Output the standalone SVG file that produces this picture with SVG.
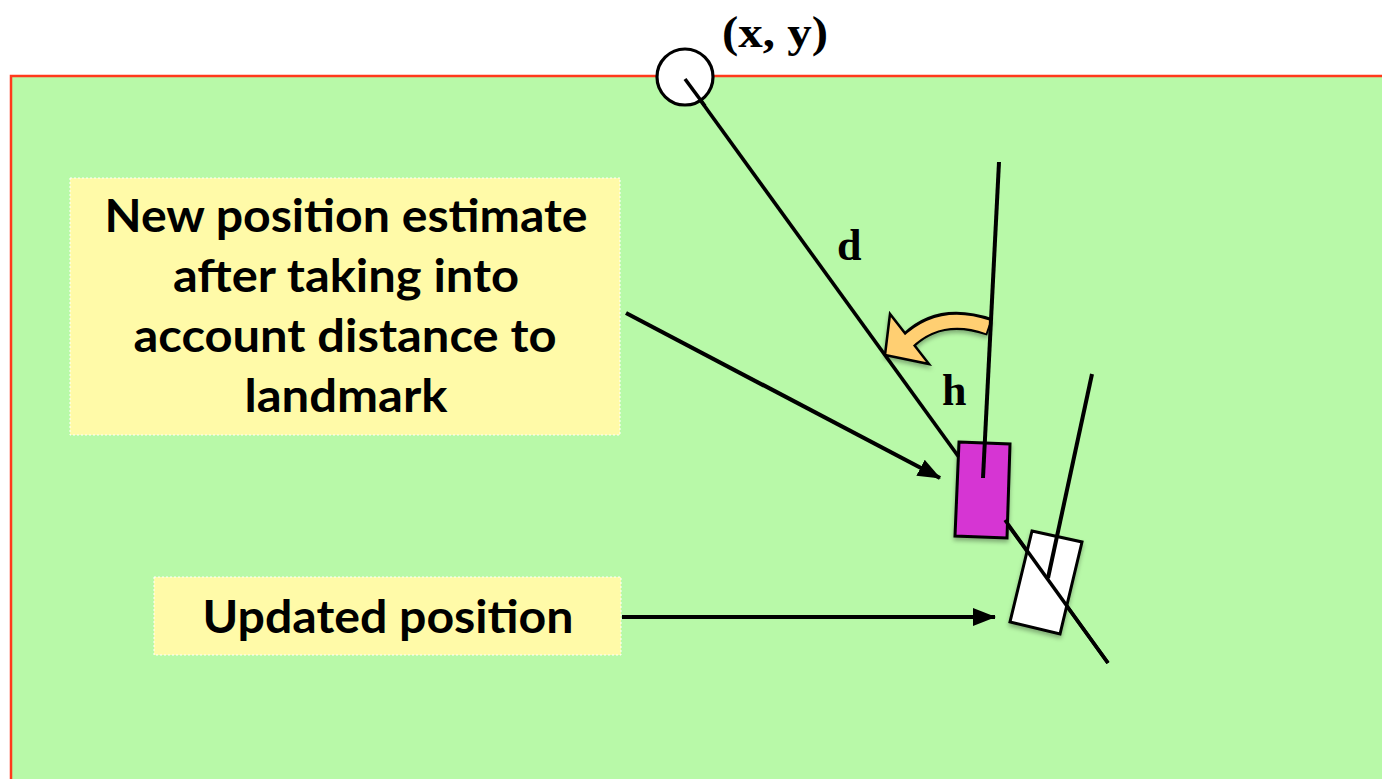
<svg xmlns="http://www.w3.org/2000/svg" width="1382" height="779" viewBox="0 0 1382 779">
<style>
.lbl{font-family:Lato,"Open Sans",sans-serif;font-weight:bold;font-size:46px;fill:#000;text-anchor:middle}
.math{font-family:"Liberation Serif",serif;font-weight:bold;font-size:44px;fill:#000}
.ln{stroke:#000;fill:none;stroke-linecap:butt}
.box{fill:#fffaa8;stroke:#fff;stroke-width:1;stroke-dasharray:2 2}
.car{stroke:#000;stroke-width:3}
</style>
<defs>
<marker id="ah" viewBox="0 0 24 20" refX="22" refY="10" markerWidth="24" markerHeight="20" markerUnits="userSpaceOnUse" orient="auto">
<path d="M0,1 L23,10 L0,19 z" fill="#000"/>
</marker>
<filter id="sh" x="-20%" y="-20%" width="140%" height="140%">
<feDropShadow dx="0" dy="3" stdDeviation="2" flood-color="#000" flood-opacity="0.3"/>
</filter>
</defs>
<rect width="1382" height="779" fill="#fff"/>
<g id="field">
<rect x="11" y="76" width="1380" height="720" fill="#b8f9a8" stroke="#ff3a1c" stroke-width="2.5"/>
</g>
<g id="connectors">
<line class="ln" x1="685" y1="79" x2="1108" y2="663" stroke-width="3.6"/>
<line class="ln" x1="626" y1="313" x2="940" y2="478" stroke-width="4.2" marker-end="url(#ah)"/>
<line class="ln" x1="622" y1="617" x2="995" y2="617" stroke-width="4.2" marker-end="url(#ah)"/>
</g>
<g id="landmark">
<circle cx="685" cy="77" r="28" fill="#fff" stroke="#000" stroke-width="3.2"/>
<line class="ln" x1="685" y1="79" x2="705" y2="106" stroke-width="3.6"/>
<text class="math" x="722" y="47" textLength="106" lengthAdjust="spacingAndGlyphs">(x, y)</text>
</g>
<g id="label-d"><text class="math" x="837" y="260">d</text></g>
<g id="label-h"><text class="math" x="942" y="405">h</text></g>
<g id="heading-arrow" filter="url(#sh)">
<path d="M990,327 Q940,310 909,340" fill="none" stroke="#000" stroke-width="18"/>
<path d="M885,355 L890,314 L929,364 Z" fill="#ffcf72" stroke="#000" stroke-width="2.5" stroke-linejoin="miter"/>
<path d="M988,327 Q940,310 906,343" fill="none" stroke="#ffcf72" stroke-width="13"/>
</g>
<g id="estimate-car">
<polygon class="car" points="959,442 1010,444 1007,538 955,536" fill="#d634d3" filter="url(#sh)"/>
<line class="ln" x1="999" y1="162" x2="983" y2="478" stroke-width="4"/>
</g>
<g id="updated-car">
<polygon class="car" points="1032,531 1082,542 1060,634 1010,622" fill="#fff" filter="url(#sh)"/>
<line class="ln" x1="1005" y1="520" x2="1108" y2="663" stroke-width="3.6"/>
<line class="ln" x1="1092" y1="374" x2="1048" y2="578" stroke-width="4"/>
</g>
<g id="estimate-label">
<rect class="box" x="70" y="178" width="550" height="257"/>
<text class="lbl" x="346" y="232" textLength="483" lengthAdjust="spacingAndGlyphs">New position estimate</text>
<text class="lbl" x="346" y="292" textLength="346" lengthAdjust="spacingAndGlyphs">after taking into</text>
<text class="lbl" x="345" y="352" textLength="423" lengthAdjust="spacingAndGlyphs">account distance to</text>
<text class="lbl" x="346" y="412" textLength="203" lengthAdjust="spacingAndGlyphs">landmark</text>
</g>
<g id="updated-label">
<rect class="box" x="154" y="577" width="467" height="78"/>
<text class="lbl" x="388" y="633" textLength="371" lengthAdjust="spacingAndGlyphs">Updated position</text>
</g>
</svg>
